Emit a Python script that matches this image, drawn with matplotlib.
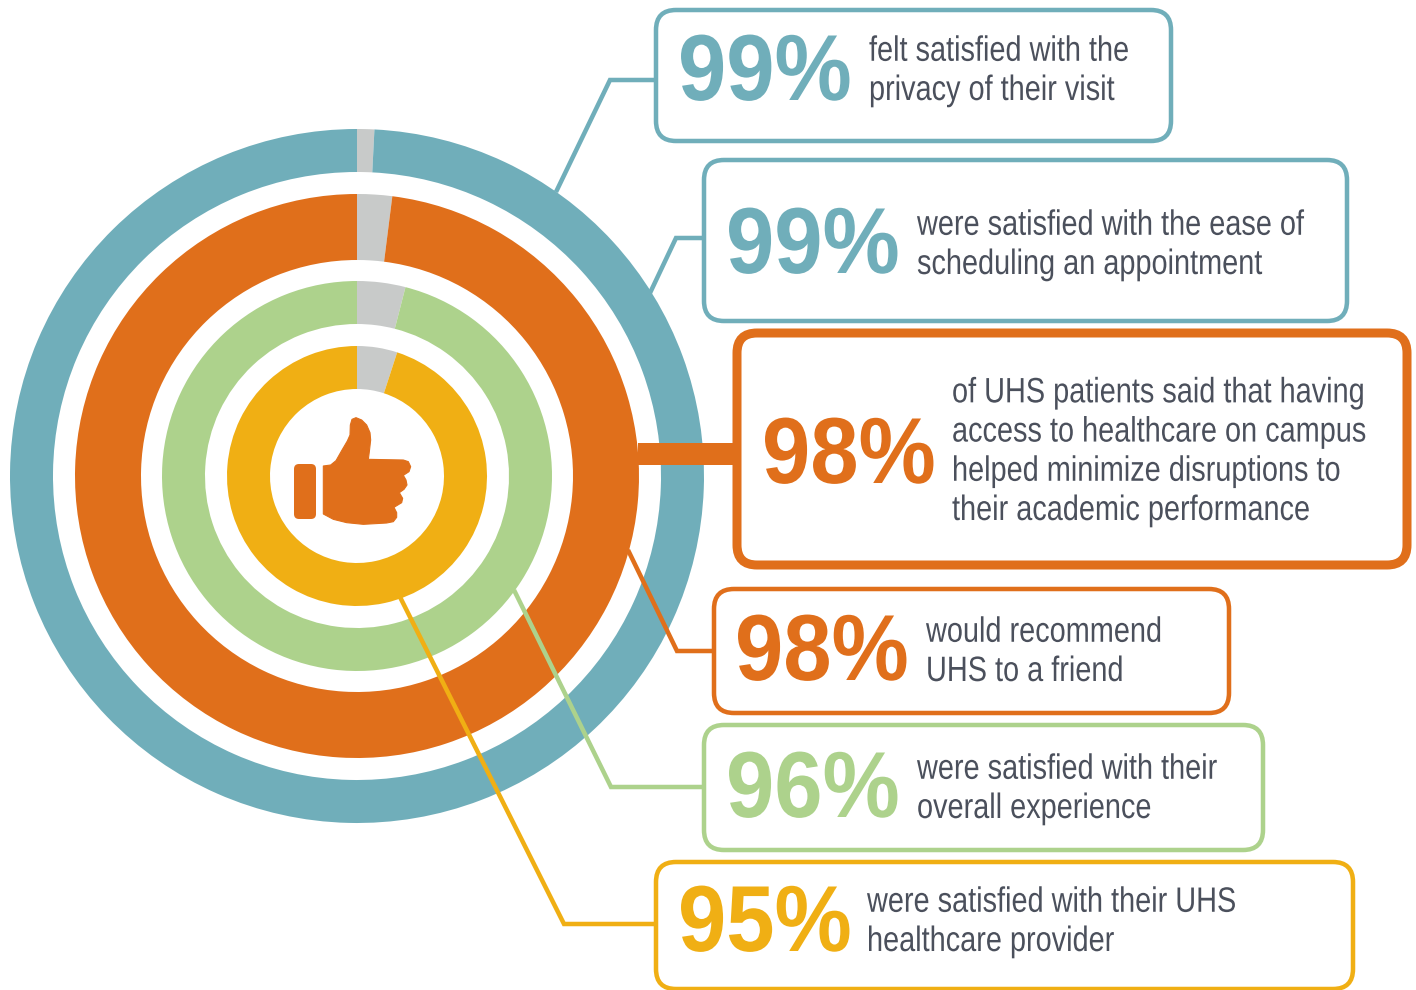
import matplotlib
matplotlib.use("Agg")
import matplotlib.pyplot as plt
from matplotlib.patches import FancyBboxPatch, Polygon
from matplotlib.patheffects import AbstractPathEffect
from matplotlib.transforms import Affine2D

W = 1416
H = 990

# rings, outside to inside
ring_values = [99.2, 98, 96, 95]
ring_colors = ["#70AEBA", "#E06F1B", "#ADD28C", "#F0AF14"]
ring_outer = [347, 282, 195, 130]
ring_inner = [304, 216, 152, 87]
rest_color = "#C8CAC9"
cx, cy = 357, 476

pcts = ["99%", "99%", "98%", "98%", "96%", "95%"]
labels = [
    "felt satisfied with the\nprivacy of their visit",
    "were satisfied with the ease of\nscheduling an appointment",
    "of UHS patients said that having\naccess to healthcare on campus\nhelped minimize disruptions to\ntheir academic performance",
    "would recommend\nUHS to a friend",
    "were satisfied with their\noverall experience",
    "were satisfied with their UHS\nhealthcare provider",
]
box_colors = ["#70AEBA", "#70AEBA", "#E06F1B", "#E06F1B", "#ADD28C", "#F0AF14"]
boxes = [(656, 10, 1171, 141), (704, 160, 1347, 321), (737, 333, 1407, 565),
         (714, 589, 1229, 713), (704, 725, 1263, 850), (656, 862, 1353, 989)]
box_lw = [4.5, 4.5, 9, 4.5, 4.5, 4.5]
pct_xy = [(678, 100), (726, 273), (762, 483), (735, 680), (726, 817), (678, 951)]
# x and the baseline of the last line
text_xy = [(869, 100), (917, 274), (952, 520), (926, 681), (917, 818), (867, 951)]
leaders = [
    ([655, 610, 556], [80, 80, 192]),
    ([703, 676, 650], [238, 238, 293]),
    ([638, 737], [454, 454]),
    ([628, 677, 713], [550, 651, 651]),
    ([514, 611, 703], [590, 787, 787]),
    ([400, 564, 655], [597, 924, 924]),
]
text_color = "#4B505C"

thumb = [(190, 408), (212, 405), (228, 392), (245, 362), (262, 333), (270, 315), (271, 285),
         (276, 268), (288, 263), (305, 270), (320, 285), (330, 308), (332, 330), (328, 365),
         (325, 388), (430, 390), (445, 395), (452, 410), (447, 425), (430, 436), (438, 450),
         (441, 465), (432, 478), (418, 488), (428, 505), (425, 518), (402, 532), (410, 548),
         (410, 562), (400, 575), (380, 579), (310, 583), (260, 578), (220, 568), (190, 552)]


# no condensed font here, so set the type small enough for the width and stretch it upward
class Tall(AbstractPathEffect):
    def __init__(self, sy):
        self.sy = sy

    def draw_path(self, renderer, gc, tpath, affine, rgbFace=None):
        renderer.draw_path(gc, tpath, Affine2D().scale(1, self.sy) + affine, rgbFace)


fig = plt.figure(figsize=(W / 100, H / 100), dpi=100)

# donut axes sits under the overlay
R = 350
pie_ax = fig.add_axes([(cx - R) / W, 1 - (cy + R) / H, 2 * R / W, 2 * R / H], zorder=1)
for i in range(len(ring_values)):
    pie_ax.pie([100 - ring_values[i], ring_values[i]], radius=ring_outer[i],
               colors=[rest_color, ring_colors[i]], startangle=90, counterclock=False,
               wedgeprops=dict(width=ring_outer[i] - ring_inner[i], linewidth=0))
pie_ax.set_xlim(-R, R)
pie_ax.set_ylim(-R, R)
pie_ax.set_aspect("equal")
pie_ax.axis("off")

# overlay in pixel coordinates
ax = fig.add_axes([0, 0, 1, 1], zorder=2)
ax.set_xlim(0, W)
ax.set_ylim(H, 0)
ax.axis("off")
ax.patch.set_alpha(0)

for i in range(len(leaders)):
    lw = 22 if i == 2 else 4.5
    ax.plot(leaders[i][0], leaders[i][1], color=box_colors[i], lw=lw * 0.72,
            solid_joinstyle="miter", solid_capstyle="butt", zorder=2)

for i in range(len(boxes)):
    x0, y0, x1, y1 = boxes[i]
    ax.add_patch(FancyBboxPatch((x0 + 16, y0 + 16), x1 - x0 - 32, y1 - y0 - 32,
                                boxstyle="round,pad=16,rounding_size=20",
                                fc="white", ec=box_colors[i], lw=box_lw[i] * 0.72, zorder=3))
    ax.text(pct_xy[i][0], pct_xy[i][1], pcts[i], color=box_colors[i], fontsize=62.5,
            family="Liberation Sans", fontweight="bold", va="baseline", ha="left", zorder=4,
            path_effects=[Tall(1.08)])
    ax.text(text_xy[i][0], text_xy[i][1], labels[i], color=text_color, fontsize=20.8,
            family="Liberation Sans", va="baseline", ha="left", linespacing=1.51, zorder=4,
            path_effects=[Tall(1.22)])

# thumbs up icon
ax.add_patch(Polygon([(260 + x / 3, 330 + y / 3) for x, y in thumb], closed=True,
                     fc="#E06F1B", ec="#E06F1B", lw=0.8, joinstyle="round", zorder=4))
ax.add_patch(FancyBboxPatch((299, 469), 12, 45, boxstyle="round,pad=5,rounding_size=5",
                            fc="#E06F1B", ec="none", zorder=4))

fig.savefig("out.png", dpi=100)
